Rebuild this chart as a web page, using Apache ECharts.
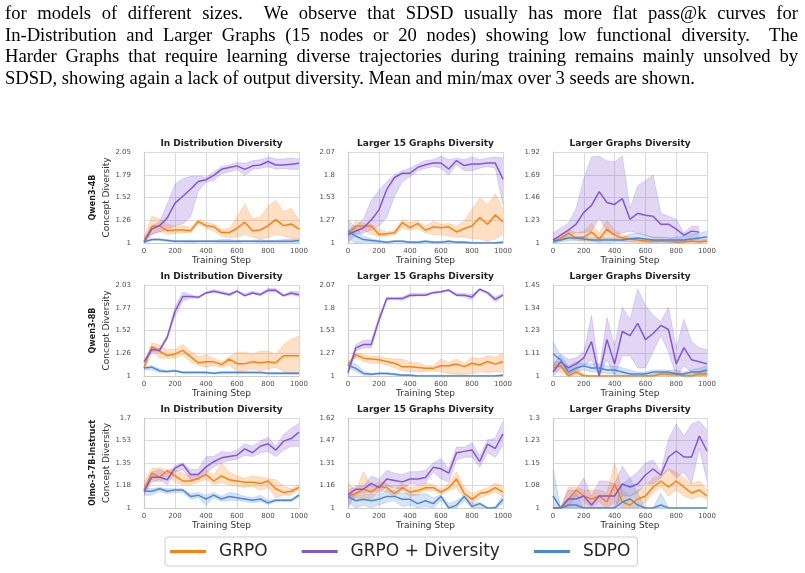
<!DOCTYPE html>
<html>
<head>
<meta charset="utf-8">
<script src="https://cdn.jsdelivr.net/npm/echarts@6/dist/echarts.min.js"></script>
<style>
html, body { margin: 0; padding: 0; background: #fff; }
#chart { position: absolute; left: 0; top: 0; width: 805px; height: 573px; }
.ln { position: absolute; left: 5px; display: inline-block; white-space: nowrap;
      font-family: 'Liberation Serif'; font-size: 18px; line-height: 18px; color: #000;
      transform-origin: 0 0; }
</style>
</head>
<body>
<div id="chart"></div>
<div class="ln" style="top:4px">for models of different sizes.&nbsp; We observe that SDSD usually has more flat pass@k curves for</div>
<div class="ln" style="top:26px">In-Distribution and Larger Graphs (15 nodes or 20 nodes) showing low functional diversity.&nbsp; The</div>
<div class="ln" style="top:47px">Harder Graphs that require learning diverse trajectories during training remains mainly unsolved by</div>
<div class="ln" style="top:69px">SDSD, showing again a lack of output diversity. Mean and min/max over 3 seeds are shown.</div>
<script>
// training steps (x)
var steps = [0, 50, 100, 150, 200, 250, 300, 350, 400, 450, 500, 550, 600, 650, 700, 750, 800, 850, 900, 950, 1000];
var xTicks = [0, 200, 400, 600, 800, 1000];

// ---- Qwen3-4B / In Distribution ----
var q4_id_ticks = ['1', '1.26', '1.52', '1.79', '2.05'];
var q4_id_grpo    = [1.02,1.19,1.2,1.14,1.15,1.15,1.14,1.25,1.2,1.19,1.12,1.12,1.17,1.24,1.14,1.15,1.2,1.27,1.2,1.22,1.16];
var q4_id_grpo_lo = [1.0,1.1,1.13,1.1,1.11,1.12,1.12,1.22,1.17,1.14,1.08,1.06,1.07,1.1,1.07,1.05,1.06,1.1,1.08,1.05,1.05];
var q4_id_grpo_hi = [1.06,1.31,1.28,1.22,1.19,1.2,1.18,1.27,1.24,1.22,1.16,1.17,1.3,1.45,1.28,1.3,1.42,1.49,1.36,1.4,1.27];
var q4_id_div     = [1.01,1.16,1.2,1.29,1.46,1.54,1.62,1.71,1.73,1.78,1.85,1.87,1.89,1.85,1.89,1.9,1.94,1.9,1.9,1.91,1.92];
var q4_id_div_lo  = [1.0,1.1,1.13,1.15,1.2,1.22,1.3,1.6,1.7,1.72,1.8,1.82,1.85,1.78,1.85,1.86,1.88,1.85,1.86,1.85,1.85];
var q4_id_div_hi  = [1.05,1.2,1.24,1.45,1.68,1.74,1.77,1.77,1.76,1.82,1.88,1.9,1.93,1.92,1.95,1.96,1.99,1.97,1.97,1.98,1.97];
var q4_id_sdpo    = [1.01,1.04,1.04,1.03,1.02,1.02,1.02,1.02,1.02,1.02,1.02,1.02,1.02,1.02,1.02,1.02,1.02,1.02,1.02,1.02,1.03];
var q4_id_sdpo_lo = [1.0,1.03,1.03,1.02,1.01,1.01,1.0,1.01,1.01,1.01,1.0,1.0,1.0,1.01,1.01,1.0,1.0,1.0,1.0,1.0,1.01];
var q4_id_sdpo_hi = [1.02,1.05,1.05,1.04,1.03,1.03,1.03,1.03,1.03,1.03,1.04,1.04,1.03,1.03,1.03,1.04,1.03,1.03,1.04,1.04,1.05];

// ---- Qwen3-4B / Larger 15 Graphs ----
var q4_l15_ticks = ['1', '1.27', '1.53', '1.8', '2.07'];
var q4_l15_grpo    = [1.1,1.2,1.2,1.2,1.1,1.11,1.12,1.24,1.18,1.23,1.15,1.19,1.18,1.19,1.13,1.17,1.2,1.3,1.22,1.33,1.25];
var q4_l15_grpo_lo = [1.07,1.13,1.15,1.1,1.08,1.08,1.1,1.18,1.15,1.17,1.12,1.1,1.1,1.08,1.07,1.07,1.05,1.05,1.02,1.05,1.1];
var q4_l15_grpo_hi = [1.12,1.26,1.23,1.22,1.16,1.13,1.15,1.27,1.24,1.26,1.2,1.26,1.22,1.23,1.2,1.26,1.4,1.53,1.45,1.58,1.4];
var q4_l15_div     = [1.1,1.14,1.18,1.27,1.39,1.63,1.77,1.82,1.82,1.89,1.92,1.94,1.94,1.87,1.97,1.91,1.93,1.93,1.94,1.94,1.75];
var q4_l15_div_lo  = [1.0,1.1,1.12,1.15,1.2,1.3,1.55,1.72,1.78,1.85,1.88,1.9,1.88,1.8,1.92,1.85,1.85,1.88,1.9,1.88,1.45];
var q4_l15_div_hi  = [1.15,1.2,1.28,1.5,1.62,1.72,1.8,1.85,1.88,1.93,1.97,1.98,2.02,1.98,2.0,1.98,2.01,1.98,2.0,2.01,2.0];
var q4_l15_sdpo    = [1.14,1.08,1.04,1.03,1.02,1.01,1.02,1.02,1.01,1.01,1.02,1.01,1.01,1.02,1.01,1.01,1.0,1.0,1.0,1.0,1.01];
var q4_l15_sdpo_lo = [1.05,1.0,1.01,1.01,1.0,1.0,1.01,1.01,1.0,1.0,1.01,1.0,1.0,1.01,1.0,1.0,1.0,1.0,1.0,1.0,1.0];
var q4_l15_sdpo_hi = [1.28,1.18,1.08,1.05,1.03,1.02,1.03,1.03,1.02,1.02,1.03,1.02,1.02,1.03,1.02,1.02,1.01,1.01,1.01,1.01,1.02];

// ---- Qwen3-4B / Larger Graphs ----
var q4_lg_ticks = ['1', '1.23', '1.46', '1.69', '1.92'];
var q4_lg_grpo    = [1.01,1.05,1.1,1.05,1.06,1.11,1.04,1.14,1.08,1.05,1.04,1.03,1.02,1.02,1.02,1.02,1.01,1.01,1.02,1.01,1.02];
var q4_lg_grpo_lo = [1.0,1.02,1.05,1.02,1.02,1.03,1.0,1.05,1.03,1.02,1.01,1.0,1.0,1.0,1.0,1.0,1.0,1.0,1.0,1.0,1.0];
var q4_lg_grpo_hi = [1.03,1.08,1.14,1.1,1.12,1.2,1.1,1.23,1.13,1.08,1.06,1.05,1.04,1.04,1.04,1.04,1.03,1.03,1.04,1.03,1.04];
var q4_lg_div     = [1.03,1.08,1.13,1.19,1.31,1.38,1.52,1.41,1.39,1.45,1.24,1.3,1.28,1.27,1.19,1.19,1.14,1.08,1.12,1.11,null];
var q4_lg_div_lo  = [1.0,1.03,1.08,1.1,1.1,1.12,1.25,1.12,1.08,1.1,1.12,1.1,1.08,1.05,1.05,1.05,1.02,1.02,1.05,1.03,null];
var q4_lg_div_hi  = [1.1,1.15,1.2,1.35,1.65,1.87,1.88,1.83,1.82,1.88,1.35,1.58,1.63,1.69,1.3,1.27,1.24,1.1,1.17,1.17,null];
var q4_lg_sdpo    = [1.02,1.03,1.05,1.05,1.04,1.03,1.03,1.03,1.03,1.03,1.04,1.05,1.04,1.03,1.03,1.03,1.03,1.03,1.04,1.05,1.06];
var q4_lg_sdpo_lo = [1.0,1.01,1.02,1.03,1.02,1.01,1.01,1.0,1.01,1.01,1.01,1.02,1.01,1.0,1.01,1.0,1.0,1.01,1.01,1.02,1.02];
var q4_lg_sdpo_hi = [1.04,1.05,1.07,1.07,1.06,1.05,1.06,1.05,1.05,1.06,1.09,1.1,1.08,1.06,1.06,1.05,1.06,1.07,1.09,1.1,1.12];

// ---- Qwen3-8B / In Distribution ----
var q8_id_ticks = ['1', '1.26', '1.52', '1.77', '2.03'];
var q8_id_grpo    = [1.09,1.33,1.28,1.23,1.25,1.29,1.22,1.15,1.16,1.16,1.13,1.19,1.14,1.14,1.16,1.15,1.16,1.15,1.23,1.23,1.23];
var q8_id_grpo_lo = [1.08,1.28,1.2,1.2,1.2,1.24,1.16,1.12,1.1,1.12,1.1,1.12,1.05,1.06,1.08,1.06,1.08,1.1,1.05,1.02,1.02];
var q8_id_grpo_hi = [1.1,1.38,1.35,1.3,1.3,1.36,1.28,1.22,1.24,1.2,1.16,1.22,1.27,1.27,1.25,1.28,1.28,1.25,1.35,1.42,1.45];
var q8_id_div     = [1.16,1.3,1.29,1.44,1.73,1.9,1.9,1.89,1.94,1.96,1.94,1.92,1.96,1.91,1.94,1.92,1.97,1.97,1.91,1.94,1.92];
var q8_id_div_lo  = [1.15,1.27,1.27,1.42,1.68,1.85,1.88,1.88,1.93,1.95,1.93,1.91,1.95,1.9,1.93,1.91,1.95,1.95,1.9,1.92,1.9];
var q8_id_div_hi  = [1.17,1.34,1.31,1.46,1.78,1.95,1.92,1.9,1.95,1.98,1.96,1.94,1.97,1.93,1.96,1.94,1.99,1.99,1.92,1.96,1.95];
var q8_id_sdpo    = [1.09,1.1,1.06,1.05,1.06,1.04,1.04,1.04,1.04,1.03,1.04,1.04,1.04,1.04,1.04,1.04,1.03,1.03,1.03,1.03,1.03];
var q8_id_sdpo_lo = [1.07,1.07,1.04,1.04,1.05,1.03,1.03,1.03,1.03,1.02,1.03,1.03,1.03,1.03,1.03,1.03,1.02,1.02,1.02,1.02,1.02];
var q8_id_sdpo_hi = [1.1,1.12,1.08,1.06,1.07,1.05,1.05,1.05,1.05,1.04,1.05,1.05,1.05,1.05,1.05,1.05,1.04,1.04,1.04,1.04,1.04];

// ---- Qwen3-8B / Larger 15 Graphs ----
var q8_l15_ticks = ['1', '1.27', '1.53', '1.8', '2.07'];
var q8_l15_grpo    = [1.13,1.25,1.21,1.2,1.19,1.17,1.15,1.11,1.11,1.1,1.09,1.09,1.12,1.12,1.14,1.11,1.15,1.13,1.17,1.14,1.17];
var q8_l15_grpo_lo = [1.1,1.22,1.17,1.15,1.15,1.13,1.1,1.06,1.05,1.05,1.05,1.06,1.05,1.03,1.02,1.02,1.03,1.05,1.04,1.05,1.05];
var q8_l15_grpo_hi = [1.16,1.27,1.25,1.23,1.23,1.21,1.2,1.2,1.16,1.16,1.12,1.12,1.2,1.16,1.2,1.15,1.22,1.2,1.24,1.22,1.27];
var q8_l15_div     = [1.04,1.33,1.37,1.37,1.66,1.91,1.91,1.91,1.95,1.95,1.95,1.98,1.99,2.01,1.95,1.95,1.93,2.02,1.98,1.9,1.95];
var q8_l15_div_lo  = [1.02,1.3,1.33,1.33,1.63,1.89,1.9,1.89,1.93,1.94,1.94,1.97,1.98,2.0,1.94,1.93,1.9,2.01,1.96,1.87,1.94];
var q8_l15_div_hi  = [1.06,1.37,1.42,1.42,1.7,1.93,1.92,1.93,1.97,1.97,1.97,1.99,2.0,2.02,1.97,1.97,1.96,2.03,1.99,1.93,1.97];
var q8_l15_sdpo    = [1.13,1.09,1.03,1.02,1.03,1.03,1.02,1.01,1.01,1.0,1.0,1.0,1.0,1.0,1.0,1.0,1.0,1.0,1.0,1.0,1.01];
var q8_l15_sdpo_lo = [1.1,1.05,1.01,1.01,1.02,1.02,1.01,1.0,1.0,1.0,1.0,1.0,1.0,1.0,1.0,1.0,1.0,1.0,1.0,1.0,1.0];
var q8_l15_sdpo_hi = [1.16,1.14,1.06,1.03,1.04,1.04,1.03,1.02,1.02,1.01,1.01,1.01,1.01,1.01,1.01,1.01,1.01,1.01,1.01,1.01,1.02];

// ---- Qwen3-8B / Larger Graphs ----
var q8_lg_ticks = ['1', '1.11', '1.23', '1.34', '1.45'];
var q8_lg_grpo    = [1.04,1.05,1.0,1.02,1.0,1.0,1.0,1.0,1.0,1.0,1.0,1.0,1.0,1.0,1.01,1.01,1.01,1.0,1.0,1.01,1.01];
var q8_lg_grpo_lo = [1.02,1.02,1.0,1.0,1.0,1.0,1.0,1.0,1.0,1.0,1.0,1.0,1.0,1.0,1.0,1.0,1.0,1.0,1.0,1.0,1.0];
var q8_lg_grpo_hi = [1.07,1.07,1.02,1.04,1.01,1.0,1.0,1.0,1.0,1.0,1.0,1.0,1.0,1.01,1.02,1.02,1.02,1.01,1.01,1.02,1.02];
var q8_lg_div     = [1.02,1.07,1.04,1.06,1.09,1.17,1.0,1.18,1.06,1.22,1.2,1.26,1.18,1.21,1.25,1.23,1.06,1.14,1.08,1.07,1.06];
var q8_lg_div_lo  = [1.0,1.04,1.01,1.03,1.05,1.08,1.0,1.08,1.0,1.1,1.1,1.04,1.04,1.12,1.2,1.12,1.0,1.05,1.02,1.0,1.0];
var q8_lg_div_hi  = [1.05,1.11,1.08,1.09,1.12,1.3,1.02,1.29,1.15,1.34,1.28,1.43,1.35,1.3,1.27,1.34,1.14,1.28,1.17,1.14,1.13];
var q8_lg_sdpo    = [1.11,1.08,1.02,1.04,1.05,1.04,1.04,1.03,1.03,1.02,1.01,1.01,1.01,1.02,1.02,1.02,1.01,1.01,1.02,1.02,1.03];
var q8_lg_sdpo_lo = [1.05,1.05,1.0,1.02,1.03,1.02,1.02,1.01,1.01,1.0,1.0,1.0,1.0,1.0,1.01,1.0,1.0,1.0,1.0,1.01,1.01];
var q8_lg_sdpo_hi = [1.17,1.1,1.05,1.07,1.06,1.06,1.06,1.05,1.05,1.04,1.03,1.02,1.02,1.03,1.03,1.03,1.03,1.02,1.03,1.04,1.05];

// ---- Olmo-3-7B-Instruct / In Distribution ----
var ol_id_ticks = ['1', '1.18', '1.35', '1.53', '1.7'];
var ol_id_grpo    = [1.14,1.27,1.24,1.29,1.25,1.21,1.21,1.23,1.26,1.21,1.25,1.22,1.21,1.2,1.2,1.19,1.21,1.15,1.12,1.13,1.16];
var ol_id_grpo_lo = [1.12,1.22,1.2,1.25,1.2,1.18,1.18,1.2,1.22,1.18,1.2,1.18,1.17,1.16,1.17,1.14,1.16,1.08,1.1,1.1,1.15];
var ol_id_grpo_hi = [1.2,1.31,1.31,1.3,1.3,1.27,1.25,1.27,1.3,1.25,1.35,1.28,1.25,1.23,1.25,1.24,1.23,1.22,1.17,1.15,1.18];
var ol_id_div     = [1.13,1.24,1.24,1.22,1.31,1.34,1.26,1.26,1.32,1.36,1.39,1.4,1.41,1.46,1.43,1.48,1.5,1.45,1.52,1.54,1.59];
var ol_id_div_lo  = [1.1,1.2,1.22,1.18,1.28,1.3,1.22,1.22,1.27,1.32,1.35,1.37,1.38,1.41,1.4,1.43,1.44,1.4,1.45,1.48,1.48];
var ol_id_div_hi  = [1.17,1.28,1.3,1.27,1.33,1.35,1.3,1.3,1.4,1.4,1.44,1.43,1.45,1.5,1.48,1.52,1.55,1.48,1.57,1.62,1.66];
var ol_id_sdpo    = [1.13,1.13,1.15,1.13,1.14,1.14,1.09,1.1,1.07,1.1,1.07,1.09,1.08,1.07,1.06,1.07,1.04,1.06,1.06,1.06,1.1];
var ol_id_sdpo_lo = [1.1,1.1,1.13,1.11,1.12,1.12,1.07,1.08,1.02,1.08,1.05,1.06,1.06,1.05,1.04,1.05,1.03,1.05,1.05,1.05,1.09];
var ol_id_sdpo_hi = [1.16,1.15,1.16,1.15,1.15,1.15,1.11,1.12,1.1,1.12,1.09,1.12,1.11,1.09,1.08,1.1,1.06,1.07,1.07,1.07,1.11];

// ---- Olmo-3-7B-Instruct / Larger 15 Graphs ----
var ol_l15_ticks = ['1', '1.16', '1.31', '1.47', '1.62'];
var ol_l15_grpo    = [1.08,1.1,1.13,1.11,1.15,1.14,1.1,1.14,1.11,1.12,1.14,1.14,1.11,1.14,1.2,1.1,1.06,1.1,1.11,1.14,1.11];
var ol_l15_grpo_lo = [1.05,1.07,1.05,1.06,1.12,1.11,1.08,1.12,1.08,1.09,1.12,1.12,1.09,1.12,1.14,1.07,1.03,1.07,1.09,1.11,1.08];
var ol_l15_grpo_hi = [1.17,1.12,1.25,1.15,1.18,1.17,1.13,1.17,1.14,1.15,1.17,1.16,1.13,1.17,1.25,1.14,1.1,1.12,1.14,1.17,1.15];
var ol_l15_div     = [1.09,1.13,1.13,1.17,1.14,1.2,1.19,1.18,1.2,1.2,1.21,1.28,1.27,1.24,1.38,1.39,1.4,1.32,1.44,1.41,1.51];
var ol_l15_div_lo  = [1.0,1.1,1.1,1.12,1.1,1.15,1.14,1.12,1.17,1.16,1.17,1.25,1.2,1.18,1.33,1.35,1.35,1.28,1.38,1.35,1.43];
var ol_l15_div_hi  = [1.12,1.15,1.15,1.22,1.2,1.26,1.24,1.23,1.25,1.25,1.26,1.31,1.34,1.27,1.42,1.42,1.45,1.36,1.47,1.48,1.6];
var ol_l15_sdpo    = [1.08,1.05,1.06,1.05,1.06,1.08,1.08,1.06,1.06,1.03,1.05,1.03,1.08,1.0,1.02,1.08,1.01,1.03,1.0,1.0,1.06];
var ol_l15_sdpo_lo = [1.04,1.0,1.02,1.0,1.02,1.04,1.05,1.01,1.02,1.0,1.01,1.0,1.05,1.0,1.0,1.05,1.0,1.0,1.0,1.0,1.03];
var ol_l15_sdpo_hi = [1.1,1.09,1.09,1.1,1.09,1.12,1.12,1.1,1.1,1.09,1.1,1.07,1.09,1.03,1.05,1.09,1.03,1.04,1.0,1.01,1.09];

// ---- Olmo-3-7B-Instruct / Larger Graphs ----
var ol_lg_ticks = ['1', '1.08', '1.15', '1.23', '1.3'];
var ol_lg_grpo    = [1.0,1.0,1.03,1.06,1.04,1.03,1.04,1.02,1.08,1.02,1.01,1.03,1.04,1.07,1.09,1.07,1.09,1.07,1.05,1.06,1.04];
var ol_lg_grpo_lo = [1.0,1.0,1.0,1.04,1.02,1.0,1.02,1.0,1.02,1.0,1.0,1.0,1.02,1.05,1.07,1.04,1.06,1.04,1.03,1.04,1.03];
var ol_lg_grpo_hi = [1.0,1.0,1.07,1.07,1.06,1.06,1.06,1.05,1.15,1.06,1.04,1.06,1.07,1.1,1.11,1.13,1.12,1.1,1.08,1.09,1.06];
var ol_lg_div     = [1.0,1.0,1.03,1.03,1.04,1.01,1.04,1.04,1.04,1.08,1.07,1.08,1.11,1.13,1.11,1.17,1.19,1.17,1.17,1.24,1.19];
var ol_lg_div_lo  = [1.0,1.0,1.0,1.0,1.0,1.0,1.0,1.0,1.0,1.04,1.04,1.05,1.08,1.08,1.1,1.13,1.1,1.12,1.08,1.2,1.09];
var ol_lg_div_hi  = [1.0,1.0,1.06,1.06,1.1,1.04,1.09,1.09,1.08,1.14,1.1,1.12,1.15,1.16,1.12,1.23,1.28,1.24,1.28,1.29,1.26];
var ol_lg_sdpo    = [1.04,1.0,1.01,1.01,1.0,1.0,1.0,1.0,1.0,1.02,1.03,1.01,1.0,1.0,1.01,1.0,1.0,1.0,1.0,1.0,1.0];
var ol_lg_sdpo_lo = [1.0,1.0,1.0,1.0,1.0,1.0,1.0,1.0,1.0,1.0,1.0,1.0,1.0,1.0,1.0,1.0,1.0,1.0,1.0,1.0,1.0];
var ol_lg_sdpo_hi = [1.13,1.0,1.03,1.05,1.0,1.0,1.0,1.0,1.0,1.08,1.1,1.05,1.0,1.0,1.05,1.0,1.0,1.0,1.0,1.0,1.0];

var colTitles = ['In Distribution Diversity', 'Larger 15 Graphs Diversity', 'Larger Graphs Diversity'];
var rowTitles = ['Qwen3-4B', 'Qwen3-8B', 'Olmo-3-7B-Instruct'];
var methodNames = ['GRPO', 'GRPO + Diversity', 'SDPO'];
var methodColors = ['#ff7f0e', '#8257d3', '#4a88d8'];
var methodRgb = ['255,127,14', '130,87,211', '74,136,216'];

var panels = [
  {ticks: q4_id_ticks,  m: [[q4_id_grpo, q4_id_grpo_lo, q4_id_grpo_hi], [q4_id_div, q4_id_div_lo, q4_id_div_hi], [q4_id_sdpo, q4_id_sdpo_lo, q4_id_sdpo_hi]]},
  {ticks: q4_l15_ticks, m: [[q4_l15_grpo, q4_l15_grpo_lo, q4_l15_grpo_hi], [q4_l15_div, q4_l15_div_lo, q4_l15_div_hi], [q4_l15_sdpo, q4_l15_sdpo_lo, q4_l15_sdpo_hi]]},
  {ticks: q4_lg_ticks,  m: [[q4_lg_grpo, q4_lg_grpo_lo, q4_lg_grpo_hi], [q4_lg_div, q4_lg_div_lo, q4_lg_div_hi], [q4_lg_sdpo, q4_lg_sdpo_lo, q4_lg_sdpo_hi]]},
  {ticks: q8_id_ticks,  m: [[q8_id_grpo, q8_id_grpo_lo, q8_id_grpo_hi], [q8_id_div, q8_id_div_lo, q8_id_div_hi], [q8_id_sdpo, q8_id_sdpo_lo, q8_id_sdpo_hi]]},
  {ticks: q8_l15_ticks, m: [[q8_l15_grpo, q8_l15_grpo_lo, q8_l15_grpo_hi], [q8_l15_div, q8_l15_div_lo, q8_l15_div_hi], [q8_l15_sdpo, q8_l15_sdpo_lo, q8_l15_sdpo_hi]]},
  {ticks: q8_lg_ticks,  m: [[q8_lg_grpo, q8_lg_grpo_lo, q8_lg_grpo_hi], [q8_lg_div, q8_lg_div_lo, q8_lg_div_hi], [q8_lg_sdpo, q8_lg_sdpo_lo, q8_lg_sdpo_hi]]},
  {ticks: ol_id_ticks,  m: [[ol_id_grpo, ol_id_grpo_lo, ol_id_grpo_hi], [ol_id_div, ol_id_div_lo, ol_id_div_hi], [ol_id_sdpo, ol_id_sdpo_lo, ol_id_sdpo_hi]]},
  {ticks: ol_l15_ticks, m: [[ol_l15_grpo, ol_l15_grpo_lo, ol_l15_grpo_hi], [ol_l15_div, ol_l15_div_lo, ol_l15_div_hi], [ol_l15_sdpo, ol_l15_sdpo_lo, ol_l15_sdpo_hi]]},
  {ticks: ol_lg_ticks,  m: [[ol_lg_grpo, ol_lg_grpo_lo, ol_lg_grpo_hi], [ol_lg_div, ol_lg_div_lo, ol_lg_div_hi], [ol_lg_sdpo, ol_lg_sdpo_lo, ol_lg_sdpo_hi]]}
];

var gridLefts = [144, 348, 553];
var gridWidths = [155, 155, 154];
var gridTops = [152, 285, 418];
var gridHeights = [91, 91, 90];

function diffs(lo, hi) {
  return lo.map(function (v, i) {
    return (v == null || hi[i] == null) ? null : +(hi[i] - v).toFixed(4);
  });
}
function isXTick(idx, val) { return xTicks.indexOf(+val) >= 0; }

var grids = [], xAxes = [], yAxes = [], series = [], graphics = [];
panels.forEach(function (p, i) {
  var row = Math.floor(i / 3), col = i % 3;
  grids.push({left: gridLefts[col], top: gridTops[row], width: gridWidths[col], height: gridHeights[row]});
  var ymin = parseFloat(p.ticks[0]), ymax = parseFloat(p.ticks[4]);
  var iv = (ymax - ymin) / 4;
  xAxes.push({
    gridIndex: i, type: 'category', data: steps.map(String), boundaryGap: false,
    axisLine: {show: true, onZero: false, lineStyle: {color: '#cccccc', width: 1.2}},
    axisTick: {show: false},
    axisLabel: {fontSize: 7, color: '#4d4d4d', margin: 5, interval: isXTick},
    splitLine: {show: true, interval: isXTick, lineStyle: {color: '#dadada', width: 1}},
    name: 'Training Step', nameLocation: 'middle', nameGap: 13,
    nameTextStyle: {fontSize: 9, color: '#333333'}
  });
  yAxes.push({
    gridIndex: i, type: 'value', min: ymin, max: ymax, interval: iv,
    axisLine: {show: true, lineStyle: {color: '#cccccc', width: 1.2}},
    axisTick: {show: false},
    axisLabel: {fontSize: 7, color: '#4d4d4d', margin: 13,
      formatter: function (v) { return p.ticks[Math.round((v - ymin) / iv)]; }},
    splitLine: {show: true, lineStyle: {color: '#dadada', width: 1}},
    name: col === 0 ? 'Concept Diversity' : '', nameLocation: 'middle', nameGap: 28,
    nameTextStyle: {fontSize: 9, color: '#333333'}
  });
  // min/max bands: lower edge + stacked (hi - lo) area
  p.m.forEach(function (d, k) {
    var rgb = methodRgb[k];
    var edge = {color: 'rgba(' + rgb + ',0.35)', width: 0.6};
    series.push({
      type: 'line', xAxisIndex: i, yAxisIndex: i, stack: 'band' + i + '_' + k,
      data: d[1], symbol: 'none', silent: true, z: 1, lineStyle: edge
    });
    series.push({
      type: 'line', xAxisIndex: i, yAxisIndex: i, stack: 'band' + i + '_' + k,
      data: diffs(d[1], d[2]), symbol: 'none', silent: true, z: 1, lineStyle: edge,
      areaStyle: {color: 'rgba(' + rgb + ',0.24)', opacity: 1}
    });
  });
  // mean lines
  p.m.forEach(function (d, k) {
    series.push({
      name: methodNames[k], type: 'line', xAxisIndex: i, yAxisIndex: i,
      data: d[0], symbol: 'none', z: 3 + k,
      lineStyle: {color: methodColors[k], width: 1.5},
      itemStyle: {color: methodColors[k]}
    });
  });
  graphics.push({
    type: 'text', x: gridLefts[col] + gridWidths[col] / 2, y: gridTops[row] - 8,
    style: {text: colTitles[col], font: 'bold 9px "DejaVu Sans"', fill: '#222222',
      textAlign: 'center', textVerticalAlign: 'middle', align: 'center', verticalAlign: 'middle'}
  });
});
rowTitles.forEach(function (t, r) {
  graphics.push({
    type: 'text', x: 93, y: gridTops[r] + gridHeights[r] / 2, rotation: Math.PI / 2,
    style: {text: t, font: 'bold 8px "DejaVu Sans"', fill: '#222222',
      textAlign: 'center', textVerticalAlign: 'middle', align: 'center', verticalAlign: 'middle'}
  });
});

var option = {
  animation: false,
  backgroundColor: '#ffffff',
  textStyle: {fontFamily: 'DejaVu Sans'},
  grid: grids,
  xAxis: xAxes,
  yAxis: yAxes,
  series: series,
  graphic: graphics,
  legend: {
    data: methodNames, left: 165, top: 537, padding: [6, 7, 6, 5],
    itemGap: 34, itemWidth: 36, itemHeight: 3, icon: 'rect',
    borderColor: '#cccccc', borderWidth: 1, borderRadius: 3, selectedMode: false,
    textStyle: {fontSize: 17, color: '#262626', fontFamily: 'DejaVu Sans', padding: [0, 0, 0, 8]}
  }
};

var chart = echarts.init(document.getElementById('chart'), null, {renderer: 'canvas'});
chart.setOption(option);

// fit the caption lines to the reference width; justify the first three
var lines = document.querySelectorAll('.ln');
var sx = 690 / lines[3].getBoundingClientRect().width;
lines.forEach(function (el, i) {
  el.style.transform = 'scaleX(' + sx + ')';
  if (i < 3) {
    el.style.width = (793 / sx) + 'px';
    el.style.whiteSpace = 'normal';
    el.style.textAlign = 'justify';
    el.style.textAlignLast = 'justify';
  }
});
</script>
</body>
</html>
